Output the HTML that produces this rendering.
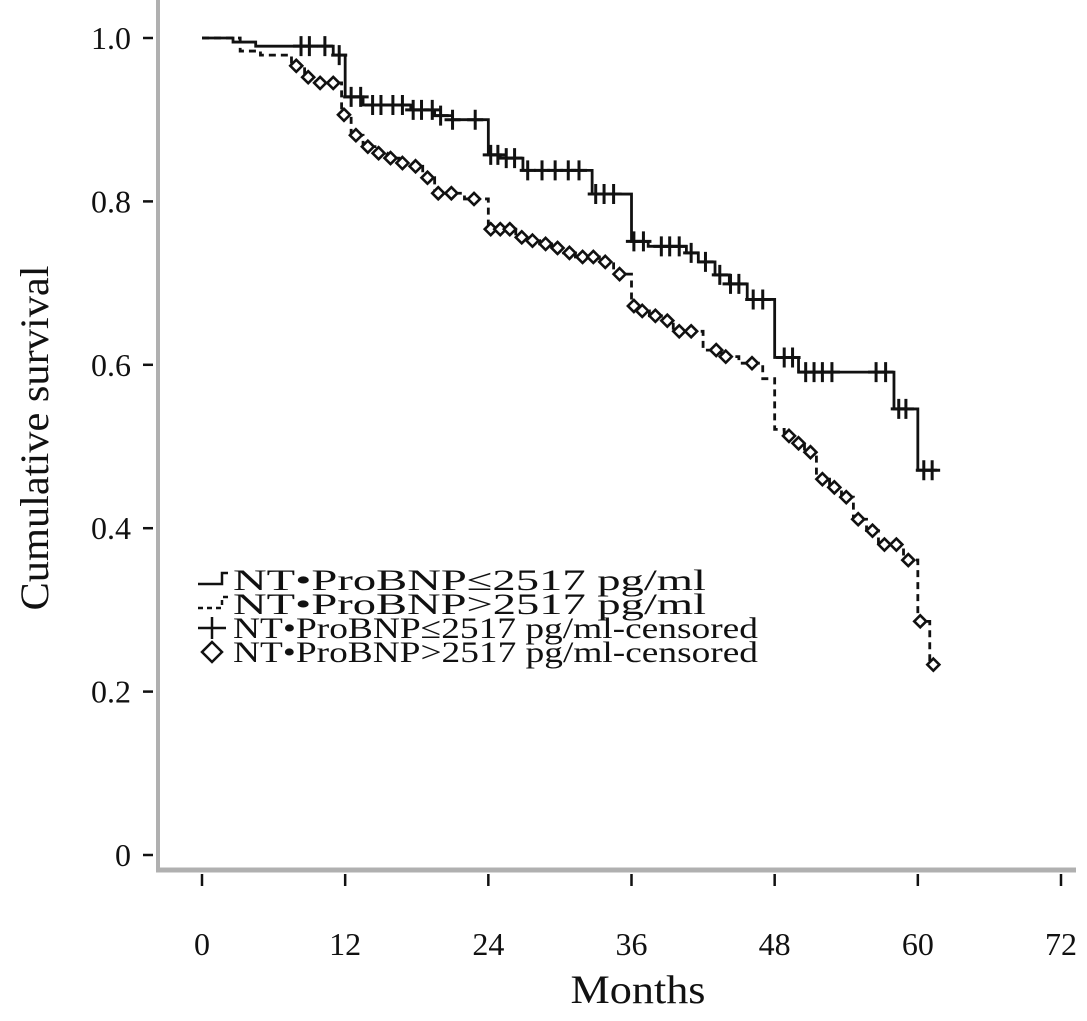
<!DOCTYPE html>
<html><head><meta charset="utf-8"><style>
body{margin:0;background:#fff}
svg text{font-family:"Liberation Serif",serif;fill:#111}
</style></head><body>
<svg id="chart" width="1087" height="1016" xmlns="http://www.w3.org/2000/svg">
<g id="axes"></g>
<g id="series"></g>
<g id="legend"></g>
</svg>
<script>
const xTicks=[0,12,24,36,48,60,72];
const yTicks=[0,0.2,0.4,0.6,0.8,1.0];
const yTickLabels=["0","0.2","0.4","0.6","0.8","1.0"];
const lowTimes=[0,2.6,4.5,11,12,13.5,17.5,19.5,21,24,25,26.9,32.7,36,37.4,40.6,41.6,43,44.2,45.7,48,50,58,60];
const lowSurv=[1,0.995,0.99,0.979,0.928,0.918,0.912,0.905,0.9,0.857,0.853,0.838,0.809,0.751,0.745,0.737,0.726,0.71,0.699,0.68,0.609,0.591,0.546,0.471];
const lowEnd=61.6;
const lowCensor=[8.3,9,10.3,11.5,12.5,13.3,14.3,15,16,16.8,17.7,18.4,19.3,20,21,22.9,24.2,24.8,25.5,26.2,27.3,28.5,29.6,30.7,31.6,33,33.7,34.5,36.2,37,38.5,39.2,40,41,42.2,43.4,44.3,45,46.2,47,48.8,49.5,50.6,51.3,52,52.8,56.5,57.3,58.4,59,60.5,61.2];
const highTimes=[0,3.2,4.9,7.5,8.6,9.5,11.7,12.5,13.5,14.5,15.5,16.5,17.5,18.5,19.5,22,24,26.3,27.3,28.3,29.3,30.3,31.3,33.3,34.5,36,36.6,37.5,38.5,39.5,42,43.5,45,47,48,48.8,49.6,50.5,51.5,52.6,53.6,54.6,55.7,56.7,58.8,60,61];
const highSurv=[1,0.984,0.979,0.966,0.952,0.945,0.906,0.881,0.867,0.859,0.853,0.847,0.843,0.829,0.81,0.803,0.766,0.756,0.752,0.748,0.743,0.737,0.732,0.726,0.711,0.672,0.666,0.66,0.654,0.641,0.618,0.61,0.602,0.583,0.521,0.513,0.504,0.493,0.46,0.45,0.438,0.411,0.397,0.38,0.361,0.286,0.233];
const highEnd=61.3;
const highCensor=[7.9,8.9,9.9,11,11.9,12.9,13.9,14.8,15.8,16.8,17.9,18.9,19.8,20.9,22.8,24.2,25,25.8,26.8,27.7,28.8,29.8,30.8,31.9,32.8,33.8,35,36.2,36.9,38,39,40,41,43.1,43.9,46.1,49.2,50,51,52,53,54,55,56.2,57.2,58.2,59.2,60.2,61.3];

const NS="http://www.w3.org/2000/svg";
const X=m=>202+m*(1061-202)/72;
const Y=s=>855-s*(855-38);
function mk(tag,attrs,parent){const e=document.createElementNS(NS,tag);for(const k in attrs)e.setAttribute(k,attrs[k]);parent.appendChild(e);return e;}
const axes=document.getElementById('axes'),series=document.getElementById('series'),legend=document.getElementById('legend');

let a=mk('line',{x1:158,y1:0,x2:158,y2:872,stroke:'#b0b0b0','stroke-width':4},axes);


a=mk('line',{x1:156,y1:870,x2:1076,y2:870,stroke:'#b0b0b0','stroke-width':5},axes);


yTicks.forEach((v,i)=>{
 const t=mk('line',{x1:143,y1:Y(v),x2:153,y2:Y(v),stroke:'#111','stroke-width':2.5},axes);
 
 
 const l=mk('text',{x:131,y:Y(v)+11,'text-anchor':'end','font-size':32},axes);l.textContent=yTickLabels[i];
 
 
});
xTicks.forEach(v=>{
 const t=mk('line',{x1:X(v),y1:874,x2:X(v),y2:886,stroke:'#111','stroke-width':2.5},axes);
 
 
 const l=mk('text',{x:X(v),y:955,'text-anchor':'middle','font-size':32},axes);l.textContent=String(v);
 
 
});
let tt=mk('text',{x:638,y:1003,'text-anchor':'middle','font-size':40,textLength:135,lengthAdjust:'spacingAndGlyphs'},axes);tt.textContent='Months';


tt=mk('text',{x:0,y:0,'text-anchor':'middle','font-size':40,textLength:345,lengthAdjust:'spacingAndGlyphs',transform:'translate(48,438) rotate(-90)'},axes);tt.textContent='Cumulative survival';



function stepPath(times,surv,end){let d=`M${X(times[0])},${Y(surv[0])}`;for(let i=1;i<times.length;i++){d+=`H${X(times[i])}V${Y(surv[i])}`;}d+=`H${X(end)}`;return d;}
function survAt(times,surv,t){let s=surv[0];for(let i=0;i<times.length;i++){if(times[i]<=t)s=surv[i];}return s;}

let p=mk('path',{d:stepPath(lowTimes,lowSurv,lowEnd),fill:'none',stroke:'#111','stroke-width':2.8},series);


p=mk('path',{d:stepPath(highTimes,highSurv,highEnd),fill:'none',stroke:'#111','stroke-width':2.8,'stroke-dasharray':'7,5'},series);


function cross(cx,cy,parent){return mk('path',{d:`M${cx-8},${cy}H${cx+8}M${cx},${cy-10}V${cy+10}`,stroke:'#111','stroke-width':3,fill:'none'},parent);}
function diamond(cx,cy,parent){return mk('path',{d:`M${cx},${cy-6}L${cx+6},${cy}L${cx},${cy+6}L${cx-6},${cy}Z`,stroke:'#111','stroke-width':2.6,fill:'#fff'},parent);}
lowCensor.forEach(t=>{
 const c=cross(X(t),Y(survAt(lowTimes,lowSurv,t)),series);
 
 
});
highCensor.forEach(t=>{
 const c=diamond(X(t),Y(survAt(highTimes,highSurv,t)),series);
 
 
});

const labels=["NT•ProBNP≤2517 pg/ml","NT•ProBNP>2517 pg/ml","NT•ProBNP≤2517 pg/ml-censored","NT•ProBNP>2517 pg/ml-censored"];
const labelWidths=[473,473,525,525];
const ly=[580,604,628,652];
labels.forEach((s,i)=>{
 const g=mk('g',{},legend);
 
 
 const y=ly[i];
 if(i===0)mk('path',{d:`M198,${y+4}H222V${y-7}H228`,stroke:'#111','stroke-width':2.5,fill:'none'},g);
 if(i===1)mk('path',{d:`M198,${y+4}H222V${y-7}H228`,stroke:'#111','stroke-width':2.5,fill:'none','stroke-dasharray':'5,4'},g);
 if(i===2)mk('path',{d:`M198,${y}H226M212,${y-11}V${y+11}`,stroke:'#111','stroke-width':2.5,fill:'none'},g);
 if(i===3)mk('path',{d:`M212,${y-10}L222,${y}L212,${y+10}L202,${y}Z`,stroke:'#111','stroke-width':2.5,fill:'none'},g);
 const t=mk('text',{x:233,y:y+10,'font-size':30,textLength:labelWidths[i],lengthAdjust:'spacingAndGlyphs'},g);t.textContent=s;
});
</script>
</body></html>
